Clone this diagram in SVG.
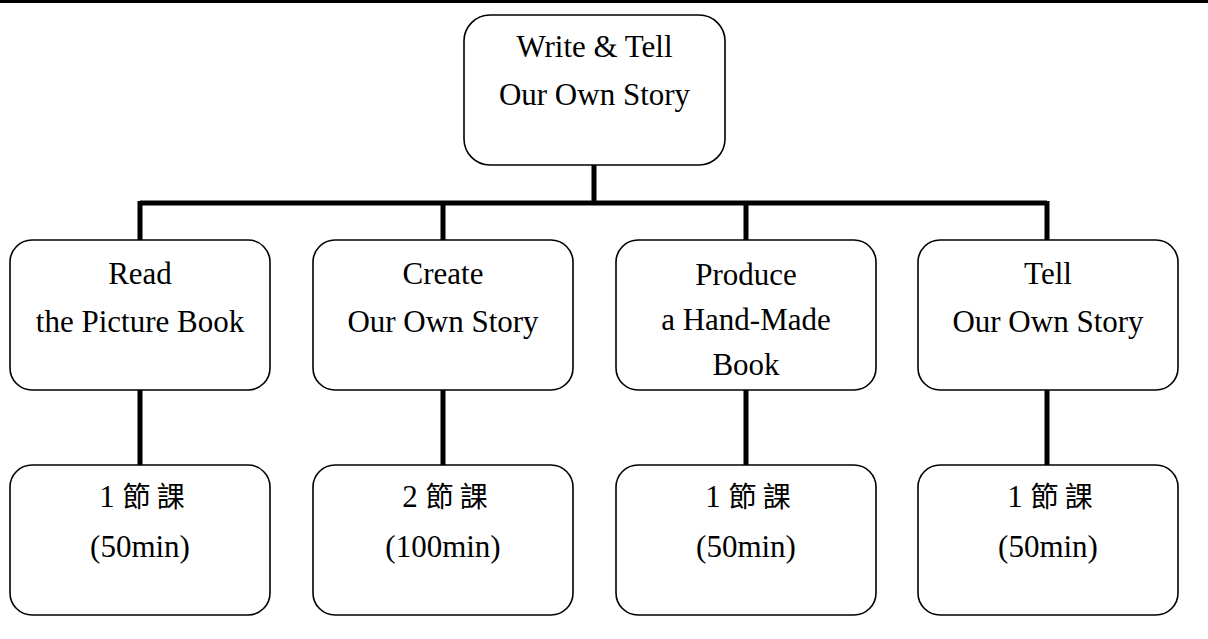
<svg xmlns="http://www.w3.org/2000/svg" width="1208" height="639" viewBox="0 0 1208 639">
<style>
.box{fill:#fff;stroke:#000;stroke-width:1.6}
.conn{stroke:#000;stroke-width:5;fill:none}
text{font-family:'Liberation Serif','Times New Roman',Times,'DejaVu Serif',serif;font-size:31px;fill:#000;text-anchor:middle}
.cjk{font-family:'Noto Sans CJK TC','Noto Sans CJK SC',sans-serif;font-size:28px}
</style>
<rect x="0" y="0" width="1208" height="639" fill="#fff"/>
<line x1="0" y1="1.5" x2="1208" y2="1.5" stroke="#000" stroke-width="3"/>
<g id="connectors">
<path class="conn" d="M594,165 V203 M140,203 H1047 M140,201 V240 M443,203 V240 M746,203 V240 M1047,201 V240"/>
<path class="conn" d="M140,390 V465 M443,390 V465 M746,390 V465 M1047,390 V465"/>
</g>
<g id="root">
<rect class="box" x="464" y="15" width="261" height="150" rx="26"/>
<text x="594.5" y="57">Write &amp; Tell</text>
<text x="594.5" y="105">Our Own Story</text>
</g>
<g id="read">
<rect class="box" x="10" y="240" width="260" height="150" rx="22"/>
<text x="140" y="284">Read</text>
<text x="140" y="332">the Picture Book</text>
</g>
<g id="create">
<rect class="box" x="313" y="240" width="260" height="150" rx="22"/>
<text x="443" y="284">Create</text>
<text x="443" y="332">Our Own Story</text>
</g>
<g id="produce">
<rect class="box" x="616" y="240" width="260" height="150" rx="22"/>
<text x="746" y="285">Produce</text>
<text x="746" y="330">a Hand-Made</text>
<text x="746" y="375">Book</text>
</g>
<g id="tell">
<rect class="box" x="918" y="240" width="260" height="150" rx="22"/>
<text x="1048" y="284">Tell</text>
<text x="1048" y="332">Our Own Story</text>
</g>
<g id="t1">
<rect class="box" x="10" y="465" width="260" height="150" rx="22"/>
<text x="142" y="507">1 <tspan class="cjk">節</tspan><tspan class="cjk" dx="6">課</tspan></text>
<text x="140" y="557">(50min)</text>
</g>
<g id="t2">
<rect class="box" x="313" y="465" width="260" height="150" rx="22"/>
<text x="445" y="507">2 <tspan class="cjk">節</tspan><tspan class="cjk" dx="6">課</tspan></text>
<text x="443" y="557">(100min)</text>
</g>
<g id="t3">
<rect class="box" x="616" y="465" width="260" height="150" rx="22"/>
<text x="748" y="507">1 <tspan class="cjk">節</tspan><tspan class="cjk" dx="6">課</tspan></text>
<text x="746" y="557">(50min)</text>
</g>
<g id="t4">
<rect class="box" x="918" y="465" width="260" height="150" rx="22"/>
<text x="1050" y="507">1 <tspan class="cjk">節</tspan><tspan class="cjk" dx="6">課</tspan></text>
<text x="1048" y="557">(50min)</text>
</g>
</svg>
